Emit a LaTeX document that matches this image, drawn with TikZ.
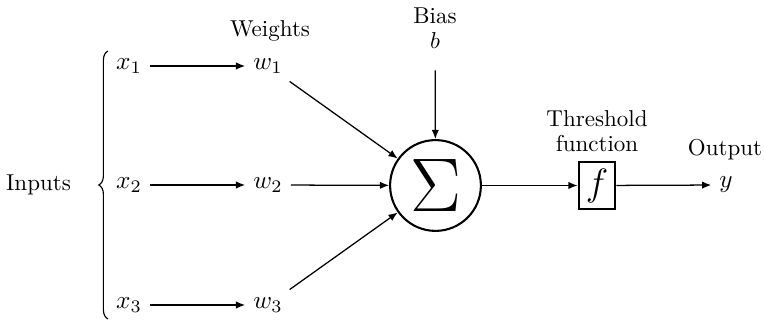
\documentclass[tikz,border=0pt]{standalone}
\usepackage{graphicx}
\usetikzlibrary{arrows.meta,decorations.pathreplacing}
\begin{document}
\begin{tikzpicture}[x=0.435pt,y=-0.435pt,
  lbl/.style={inner sep=3.3pt},
  mth/.style={inner sep=3pt,scale=1.1},
  arr/.style={-{Latex[length=4pt,width=3.2pt]},line width=0.55pt},
  sumnode/.style={circle,draw,line width=0.9pt,minimum size=39.5pt,inner sep=0pt},
  fbox/.style={draw,line width=0.9pt,minimum width=16pt,minimum height=20.3pt,inner sep=0pt}]
\useasboundingbox (0,0) rectangle (764,321);
\node[lbl] (inputs) at (38.5,185) {Inputs};
\node[mth] (x1) at (129,66) {$x_1$};
\node[mth] (x2) at (129,185) {$x_2$};
\node[mth] (x3) at (129,305) {$x_3$};
\node[mth] (w1) at (268,66) {$w_1$};
\node[mth] (w2) at (268,185) {$w_2$};
\node[mth] (w3) at (268,305) {$w_3$};
\node[lbl] (weights) at (270,31) {Weights};
\node[sumnode] (sum) at (435.5,185.5) {\scalebox{1.33}{\Huge$\Sigma$}};
\node[lbl,align=center] (bias) at (435,28) {Bias\\[-1pt]$b$};
\node[fbox] (f) at (597,185.5) {\scalebox{1.15}{\Large$f$}};
\node[lbl,align=center] (thr) at (597,131) {Threshold\\[-1pt]function};
\node[mth] (y) at (726,185) {$y$};
\node[lbl] (out) at (725,150) {Output};
\coordinate (bb) at (108,319);
\coordinate (bt) at (108,51);
\draw[decorate,decoration={brace,amplitude=4pt},line width=0.5pt] (bb) -- (bt);
\draw[arr] (x1) -- (w1);
\draw[arr] (x2) -- (w2);
\draw[arr] (x3) -- (w3);
\draw[arr] (w1) -- (sum);
\draw[arr] (w2) -- (sum);
\draw[arr] (w3) -- (sum);
\draw[arr,shorten <=6pt] (bias) -- (sum);
\draw[arr] (sum) -- (f);
\draw[arr] (f) -- (y);
\end{tikzpicture}
\end{document}
